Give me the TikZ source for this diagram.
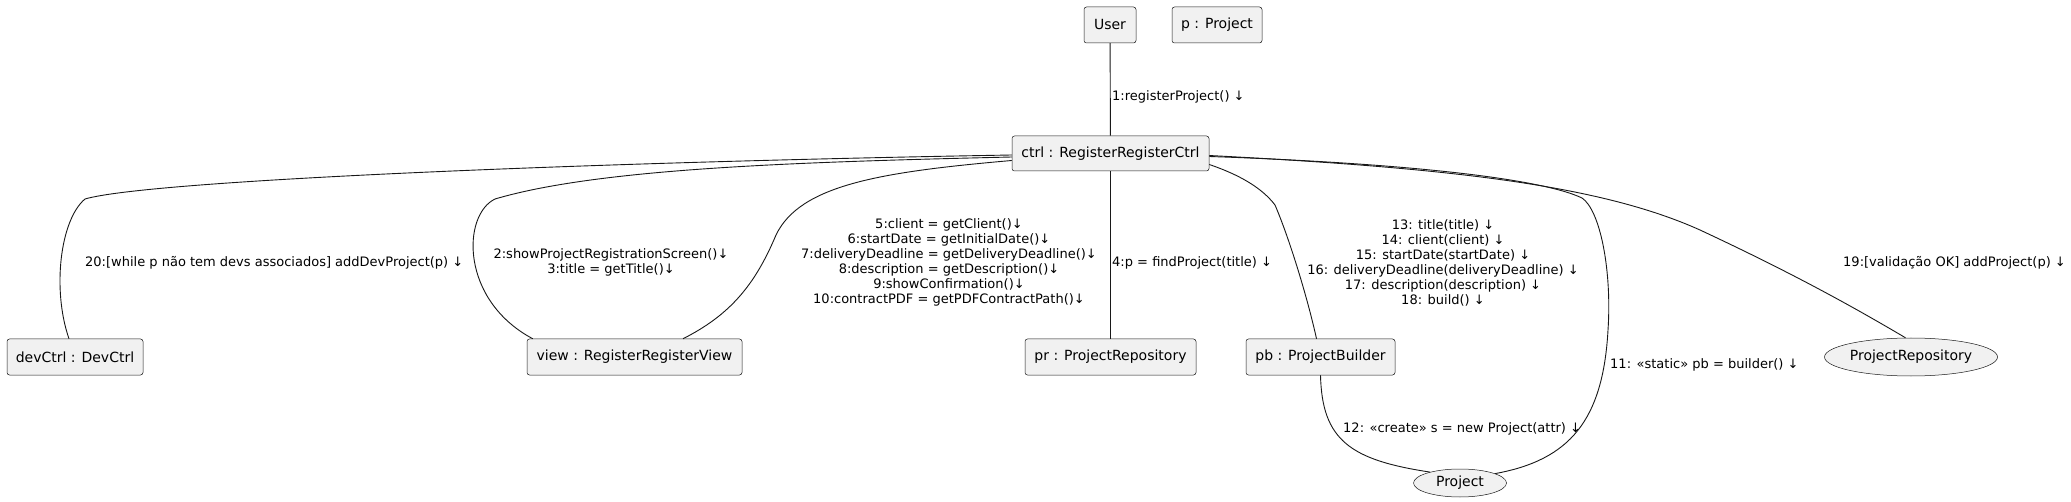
\documentclass[tikz,border=0pt]{standalone}
\usepackage{fontspec}
\setmainfont{DejaVu Sans}
\usetikzlibrary{shapes.geometric}
\definecolor{umlFill}{HTML}{F1F1F1}
\definecolor{umlLine}{HTML}{181818}
\tikzset{
  uml box/.style={rectangle, rounded corners=2.5pt, draw=umlLine, fill=umlFill, line width=0.5pt, inner sep=0pt, minimum height=36pt, font=\fontsize{14}{16}\selectfont},
  uml oval/.style={ellipse, draw=umlLine, fill=umlFill, line width=0.5pt, inner sep=0pt, font=\fontsize{14}{16}\selectfont},
  uml link/.style={draw=umlLine, line width=0.9pt},
  uml label/.style={font=\fontsize{13}{15}\selectfont, text=black, inner sep=0pt, align=center},
}

\begin{document}
\begin{tikzpicture}[x=1pt, y=-1pt,
  msg/.style={uml label, anchor=west}
]
  \useasboundingbox (0,0) rectangle (2071,502);

  \node[uml box, minimum width=52pt] (user) at (1110,25) {User};
  \node[uml box, minimum width=90pt] (pproj) at (1217,25) {p : Project};
  \node[uml box, minimum width=197pt, minimum height=35pt] (ctrl) at (1110.5,153.5) {ctrl : RegisterRegisterCtrl};
  \node[uml box, minimum width=136pt] (devctrl) at (75,357) {devCtrl : DevCtrl};
  \node[uml box, minimum width=215pt] (view) at (634.5,357) {view : RegisterRegisterView};
  \node[uml box, minimum width=171pt] (pr) at (1110.5,357) {pr : ProjectRepository};
  \node[uml box, minimum width=149pt] (pb) at (1320.5,357) {pb : ProjectBuilder};
  \node[uml oval, minimum width=164pt, minimum height=38pt] (prepo) at (1911,357) {ProjectRepository};
  \node[uml oval, minimum width=93pt, minimum height=28pt] (project) at (1460,483) {Project};

  \draw[uml link] (user) -- (ctrl);
  \draw[uml link] ([yshift=-1.5pt]ctrl.west) .. controls (600,162) and (150,180) .. (85,199)
    .. controls (60,220) and (52,290) .. ([xshift=-6pt]devctrl.north);
  \draw[uml link] ([yshift=-3.5pt]ctrl.west) .. controls (800,162) and (600,168) .. (495,199)
    .. controls (462,215) and (460,300) .. ([xshift=6pt]view.north west);
  \draw[uml link] ([yshift=-7pt]ctrl.west) .. controls (880,172) and (800,185) .. (776,235)
    .. controls (755,285) and (730,315) .. ([xshift=48.5pt]view.north);
  \draw[uml link] (ctrl) -- (pr);
  \draw[uml link] ([yshift=-11pt]ctrl.east) .. controls (1240,175) and (1262,188) .. (1275,205)
    .. controls (1290,240) and (1308,300) .. ([xshift=-4pt]pb.north);
  \draw[uml link] ([yshift=-3pt]ctrl.east) .. controls (1400,163) and (1540,178) .. (1582,198)
    .. controls (1600,210) and (1612,270) .. (1608,330)
    .. controls (1603,420) and (1570,460) .. (project.15);
  \draw[uml link] ([yshift=-2pt]ctrl.east) .. controls (1450,168) and (1600,185) .. (1700,230)
    .. controls (1790,272) and (1850,305) .. (prepo.106);
  \draw[uml link] (pb.south) .. controls (1322,440) and (1350,460) .. (project.160);

  \node[msg] (m1) at (1112,97) {1:registerProject() ↓};
  \node[msg] (m20) at (85,263) {20:[while p não tem devs associados] addDevProject(p) ↓};
  \node[uml label] (m2) at (611,262.5) {2:showProjectRegistrationScreen()↓\\3:title = getTitle()↓};
  \node[uml label] (m5) at (949,262.5) {5:client = getClient()↓\\6:startDate = getInitialDate()↓\\7:deliveryDeadline = getDeliveryDeadline()↓\\8:description = getDescription()↓\\9:showConfirmation()↓\\10:contractPDF = getPDFContractPath()↓};
  \node[msg] (m4) at (1112,263) {4:p = findProject(title) ↓};
  \node[uml label] (m13) at (1443,262.5) {13: title(title) ↓\\14: client(client) ↓\\15: startDate(startDate) ↓\\16: deliveryDeadline(deliveryDeadline) ↓\\17: description(description) ↓\\18: build() ↓};
  \node[msg] (m11) at (1610,365) {11: «static» pb = builder() ↓};
  \node[msg] (m12) at (1343,429) {12: «create» s = new Project(attr) ↓};
  \node[msg] (m19) at (1843,263) {19:[validação OK] addProject(p) ↓};
\end{tikzpicture}
\end{document}
